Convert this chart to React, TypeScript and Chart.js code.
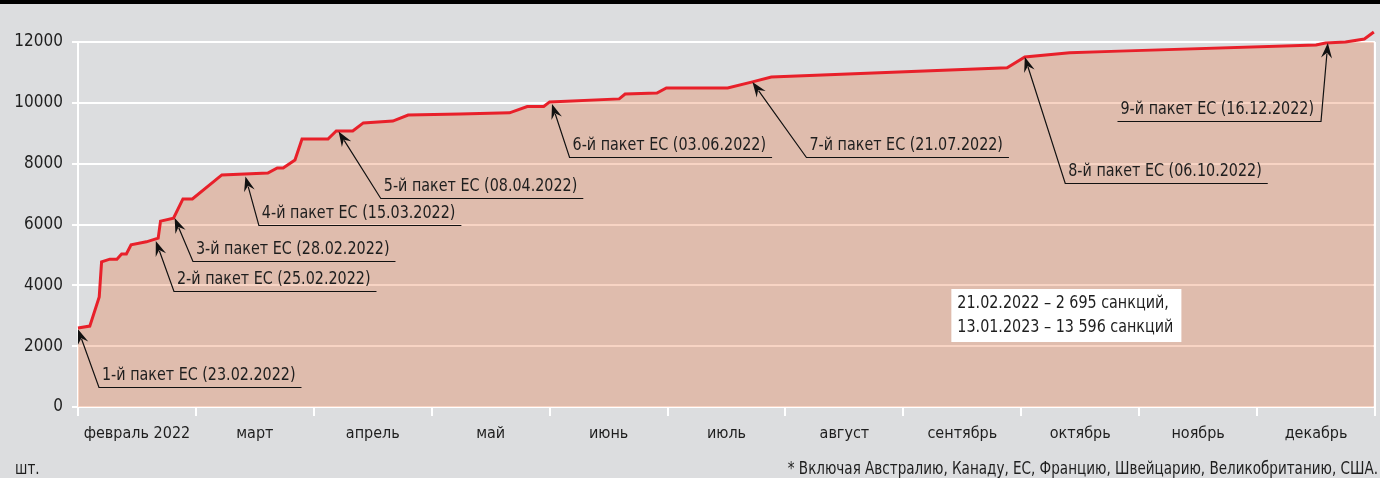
import React, { useEffect, useRef } from 'react';
import { Chart, registerables } from 'chart.js';

Chart.register(...registerables);

// ---------- data ----------
const monthLabels = ['февраль 2022', 'март', 'апрель', 'май', 'июнь', 'июль', 'август', 'сентябрь', 'октябрь', 'ноябрь', 'декабрь'];

// position along the time axis, in month units (each month segment = 1)
const positions = [0, 0.1, 0.18, 0.2, 0.27, 0.33, 0.37, 0.41, 0.45, 0.58, 0.68, 0.7, 0.81, 0.89, 0.97, 1.22, 1.61, 1.69, 1.74, 1.84, 1.9, 2.12, 2.19, 2.33, 2.42, 2.67, 2.8, 3.24, 3.66, 3.81, 3.95, 4.0, 4.59, 4.64, 4.91, 4.99, 5.51, 5.72, 5.88, 7.88, 8.03, 8.41, 8.83, 10.5, 10.58, 10.75, 10.91, 10.99];
const sanctions = [2600, 2660, 3620, 4770, 4860, 4860, 5030, 5030, 5330, 5430, 5550, 6110, 6210, 6840, 6840, 7630, 7690, 7860, 7860, 8120, 8810, 8810, 9075, 9075, 9340, 9400, 9600, 9630, 9670, 9880, 9880, 10030, 10130, 10290, 10320, 10490, 10490, 10690, 10850, 11150, 11510, 11650, 11700, 11900, 11970, 12000, 12100, 12330];

const yTicks = [0, 2000, 4000, 6000, 8000, 10000, 12000];

const packageLabels = [
  '1-й пакет ЕС (23.02.2022)',
  '2-й пакет ЕС (25.02.2022)',
  '3-й пакет ЕС (28.02.2022)',
  '4-й пакет ЕС (15.03.2022)',
  '5-й пакет ЕС (08.04.2022)',
  '6-й пакет ЕС (03.06.2022)',
  '7-й пакет ЕС (21.07.2022)',
  '8-й пакет ЕС (06.10.2022)',
  '9-й пакет ЕС (16.12.2022)',
];
// arrow tip (on the line) and label elbow, in data units
const packageTipX = [0.0, 0.66, 0.82, 1.42, 2.21, 4.02, 5.72, 8.03, 10.6];
const packageTipY = [2560, 5460, 6214, 7580, 9060, 9960, 10685, 11507, 11967];
const packageElbowX = [0.178, 0.814, 0.975, 1.534, 2.568, 4.169, 6.178, 8.373, 10.542];
const packageElbowY = [658, 3814, 4800, 5984, 6871, 8219, 8219, 7365, 9403];
const packageSide = ['right', 'right', 'right', 'right', 'right', 'right', 'right', 'right', 'left'];

const noteLines = ['21.02.2022 – 2 695 санкций,', '13.01.2023 – 13 596 санкций'];
const noteX = 7.407;
const noteY = 3879;

const unitLabel = 'шт.';
const footnote = '* Включая Австралию, Канаду, ЕС, Францию, Швейцарию, Великобританию, США.';

// ---------- styles ----------
const FONT = '"Liberation Sans Narrow", "Arial Narrow", "DejaVu Sans Condensed", "Roboto Condensed", sans-serif';
const BG = '#dcdddf';
const TEXT = '#1e1e1e';
const SQUEEZE = 0.885;

function narrowText(ctx: CanvasRenderingContext2D, text: string, x: number, y: number, align: 'left' | 'right') {
  const w = ctx.measureText(text).width * SQUEEZE;
  ctx.save();
  ctx.translate(align === 'left' ? x : x - w, y);
  ctx.scale(SQUEEZE, 1);
  ctx.textAlign = 'left';
  ctx.fillText(text, 0, 0);
  ctx.restore();
  return w;
}

const decorPlugin = {
  id: 'decor',
  beforeDraw(chart: any) {
    const { ctx, width, height } = chart;
    ctx.save();
    ctx.fillStyle = BG;
    ctx.fillRect(0, 0, width, height);
    ctx.fillStyle = '#000';
    ctx.fillRect(0, 0, width, 4);
    ctx.restore();
  },
  beforeDatasetsDraw(chart: any) {
    const { ctx, chartArea } = chart;
    ctx.save();
    ctx.strokeStyle = '#fff';
    ctx.lineWidth = 2;
    ctx.beginPath();
    ctx.moveTo(chartArea.right, chartArea.top);
    ctx.lineTo(chartArea.right, chartArea.bottom);
    ctx.stroke();
    ctx.restore();
  },
  afterDatasetsDraw(chart: any) {
    const { ctx, width, height } = chart;
    const xs = chart.scales.x;
    const ys = chart.scales.y;
    ctx.save();
    ctx.font = `18px ${FONT}`;
    ctx.strokeStyle = '#111';
    ctx.fillStyle = TEXT;
    ctx.lineWidth = 1.2;
    packageLabels.forEach((label, i) => {
      const tx = xs.getPixelForValue(packageTipX[i]);
      const ty = ys.getPixelForValue(packageTipY[i]);
      const ex = xs.getPixelForValue(packageElbowX[i]);
      const ey = Math.round(ys.getPixelForValue(packageElbowY[i])) + 0.5;
      const w = ctx.measureText(label).width * SQUEEZE;
      const right = packageSide[i] === 'right';
      const ux = right ? ex + w + 9 : ex - w - 10;
      const ang = Math.atan2(ty - ey, tx - ex);
      const L = 15;
      const W = 5.5;
      const dx = Math.cos(ang);
      const dy = Math.sin(ang);
      const bx = tx - dx * L * 0.7;
      const by = ty - dy * L * 0.7;
      ctx.beginPath();
      ctx.moveTo(ux, ey);
      ctx.lineTo(ex, ey);
      ctx.lineTo(bx, by);
      ctx.stroke();
      // arrow head
      ctx.fillStyle = '#111';
      ctx.beginPath();
      ctx.moveTo(tx, ty);
      ctx.lineTo(tx - dx * L - dy * W, ty - dy * L + dx * W);
      ctx.lineTo(tx - dx * L * 0.65, ty - dy * L * 0.65);
      ctx.lineTo(tx - dx * L + dy * W, ty - dy * L - dx * W);
      ctx.closePath();
      ctx.fill();
      ctx.fillStyle = TEXT;
      ctx.textBaseline = 'middle';
      if (right) {
        narrowText(ctx, label, ex + 3, ey - 12, 'left');
      } else {
        narrowText(ctx, label, ex - 7, ey - 12, 'right');
      }
    });

    // note box
    const nx = xs.getPixelForValue(noteX);
    const ny = ys.getPixelForValue(noteY);
    const nw = Math.max(...noteLines.map((t) => ctx.measureText(t).width * SQUEEZE)) + 14;
    ctx.fillStyle = '#fff';
    ctx.fillRect(nx, ny, nw, 53);
    ctx.fillStyle = TEXT;
    ctx.textBaseline = 'middle';
    noteLines.forEach((t, i) => narrowText(ctx, t, nx + 6, ny + 14 + i * 24, 'left'));

    // footer texts
    ctx.font = `17px ${FONT}`;
    ctx.textBaseline = 'alphabetic';
    narrowText(ctx, unitLabel, 15, height - 4, 'left');
    narrowText(ctx, footnote, width - 2, height - 4, 'right');
    ctx.restore();
  },
};

export default function App() {
  const ref = useRef<HTMLCanvasElement | null>(null);
  useEffect(() => {
    document.body.style.margin = '0';
    const canvas = ref.current;
    if (!canvas) return;
    const chart = new Chart(canvas, {
      type: 'line',
      data: {
        datasets: [
          {
            data: positions.map((x, i) => ({ x, y: sanctions[i] })),
            borderColor: '#e8202a',
            borderWidth: 3,
            backgroundColor: 'rgba(233,114,60,0.3)',
            fill: 'origin',
            pointRadius: 0,
            tension: 0,
            clip: false,
            xAxisID: 'x',
            yAxisID: 'y',
          } as any,
        ],
      },
      options: {
        animation: false,
        responsive: false,
        layout: { padding: { left: 0, right: 5, top: 42, bottom: 0 } },
        plugins: { legend: { display: false }, tooltip: { enabled: false } },
        scales: {
          x: {
            type: 'linear',
            min: 0,
            max: monthLabels.length,
            position: 'bottom',
            weight: 0,
            afterBuildTicks: (s: any) => {
              s.ticks = [...monthLabels.map((_, i) => ({ value: i })), { value: monthLabels.length }];
            },
            ticks: { display: false },
            grid: { drawOnChartArea: false, drawTicks: true, tickLength: 9, color: '#fff', lineWidth: 2 },
            border: { color: '#fff', width: 2 },
            afterFit: (s: any) => {
              s.height = 9;
            },
          },
          x2: {
            type: 'linear',
            min: 0,
            max: monthLabels.length,
            position: 'bottom',
            weight: 1,
            afterBuildTicks: (s: any) => {
              s.ticks = monthLabels.map((_, i) => ({ value: i + 0.5 }));
            },
            ticks: {
              callback: (_v: any, i: number) => monthLabels[i],
              font: { family: FONT, size: 16 },
              color: TEXT,
              padding: 0,
              autoSkip: false,
              maxRotation: 0,
              minRotation: 0,
            },
            grid: { display: false },
            border: { display: false },
            afterFit: (s: any) => {
              s.height = 62;
            },
          },
          y: {
            type: 'linear',
            min: 0,
            max: 12000,
            afterBuildTicks: (s: any) => {
              s.ticks = yTicks.map((v) => ({ value: v }));
            },
            ticks: {
              callback: (v: any) => String(v),
              font: { family: FONT, size: 17 },
              color: TEXT,
              padding: 9,
            },
            grid: { color: '#fff', lineWidth: 2, tickLength: 6 },
            border: { color: '#fff', width: 2 },
            afterFit: (s: any) => {
              s.width = 78;
            },
          },
        },
      } as any,
      plugins: [decorPlugin],
    });
    return () => chart.destroy();
  }, []);
  return <canvas ref={ref} width={1380} height={478} style={{ display: 'block' }} />;
}
